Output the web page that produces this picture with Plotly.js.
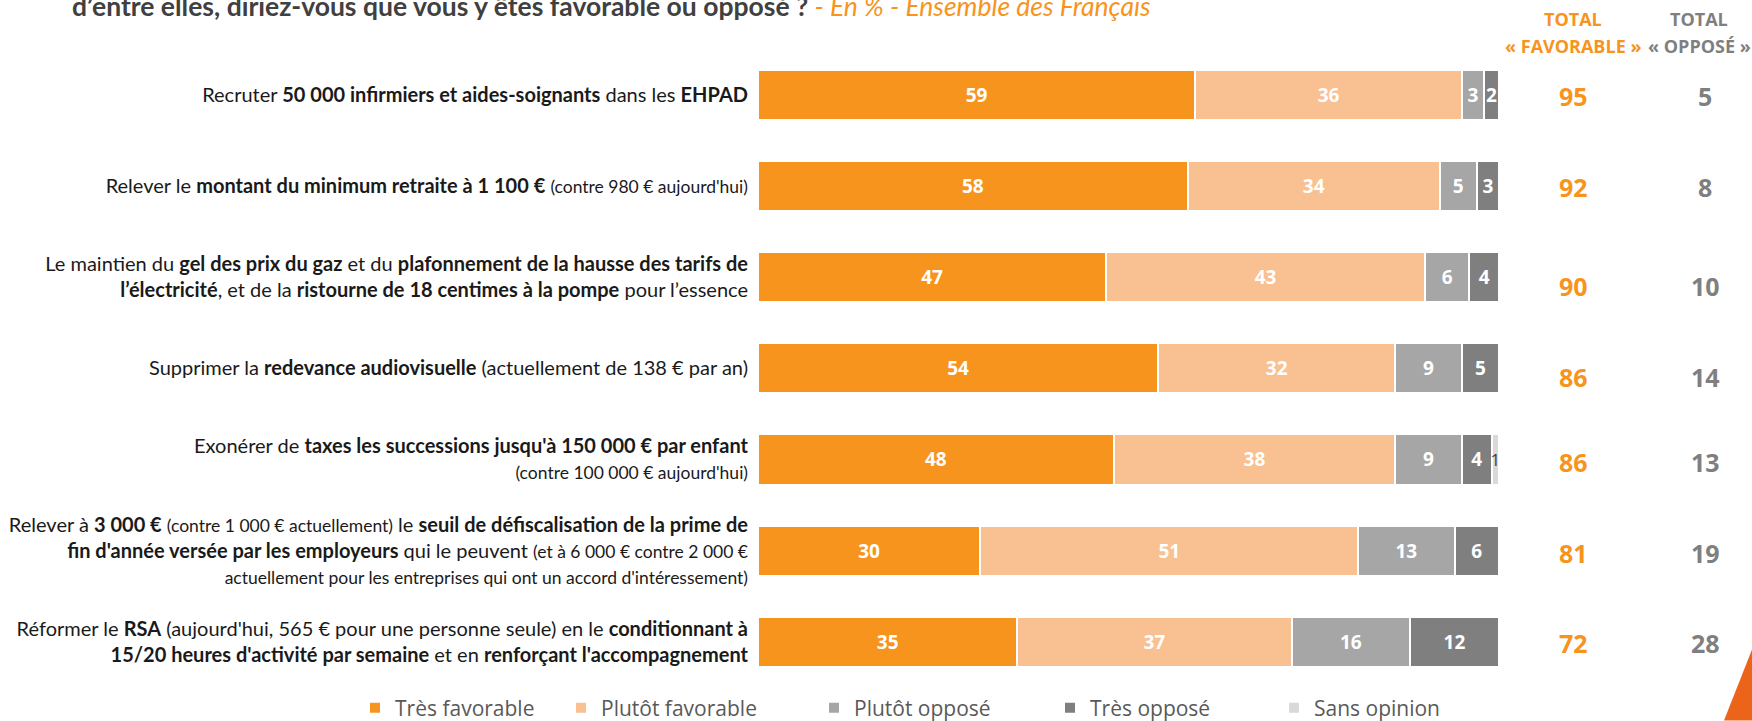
<!DOCTYPE html>
<html>
<head>
<meta charset="utf-8">
<script src="https://cdn.plot.ly/plotly-3.0.1.min.js"></script>
<style>
  html, body { margin: 0; padding: 0; background: #ffffff; }
  #chart { width: 1752px; height: 721px; }
</style>
</head>
<body>
<div id="chart"></div>
<script>
// ---------- DATA ----------
const SMALL = "<span style='font-size:17.5px'>";
const categories = [
  "Recruter <b>50 000 infirmiers et aides-soignants</b> dans les <b>EHPAD</b>",
  "Relever le <b>montant du minimum retraite à 1 100 €</b> " + SMALL + "(contre 980 € aujourd'hui)</span>",
  "Le maintien du <b>gel des prix du gaz</b> et du <b>plafonnement de la hausse des tarifs de</b><br><b>l’électricité</b>, et de la <b>ristourne de 18 centimes à la pompe</b> pour l’essence",
  "Supprimer la <b>redevance audiovisuelle</b> (actuellement de 138 € par an)",
  "Exonérer de <b>taxes les successions jusqu'à 150 000 € par enfant</b><br>" + SMALL + "(contre 100 000 € aujourd'hui)</span>",
  "Relever à <b>3 000 €</b> " + SMALL + "(contre 1 000 € actuellement)</span> le <b>seuil de défiscalisation de la prime de</b><br><b>fin d'année versée par les employeurs</b> qui le peuvent " + SMALL + "(et à 6 000 € contre 2 000 €</span><br>" + SMALL + "actuellement pour les entreprises qui ont un accord d'intéressement)</span>",
  "Réformer le <b>RSA</b> (aujourd'hui, 565 € pour une personne seule) en le <b>conditionnant à</b><br><b>15/20 heures d'activité par semaine</b> et en <b>renforçant l'accompagnement</b>"
];

const seriesNames = ["Très favorable", "Plutôt favorable", "Plutôt opposé", "Très opposé", "Sans opinion"];
const tresFavorable    = [59, 58, 47, 54, 48, 30, 35];
const plutotFavorable  = [36, 34, 43, 32, 38, 51, 37];
const plutotOppose     = [3, 5, 6, 9, 9, 13, 16];
const tresOppose       = [2, 3, 4, 5, 4, 6, 12];
const sansOpinion      = [0, 0, 0, 0, 1, 0, 0];

const totalColumns = ["Total favorable", "Total opposé"];
const totalFavorable = [95, 92, 90, 86, 86, 81, 72];
const totalOppose    = [5, 8, 10, 14, 13, 19, 28];

const titleMain = "d’entre elles, diriez-vous que vous y êtes favorable ou opposé ?";
const titleSub  = " - En % - Ensemble des Français";

// ---------- STYLE / LAYOUT ----------
const W = 1752, H = 721;
const M = { l: 758, r: 0, t: 49, b: 33 };
const plotW = W - M.l - M.r, plotH = H - M.t - M.b;
const barsRightPx = 1499;
const xDomainEnd = (barsRightPx - M.l) / plotW;
const px2x = p => (p - M.l) / plotW;
const py2y = p => (H - M.b - p) / plotH;

const colors = ["#F7941D", "#F9C091", "#A6A6A6", "#7F7F7F", "#D9D9D9"];
const seriesValues = [tresFavorable, plutotFavorable, plutotOppose, tresOppose, sansOpinion];
const legendIds = ["legend", "legend2", "legend3", "legend4", "legend5"];
const legendTextStartPx = [392, 598, 851, 1087, 1311];
// the totals table in the original is slightly offset downwards on some rows
const totalsRowShiftPx = [0, 0, 8, 8, 2, 1, 0];

const traces = seriesValues.map((vals, i) => {
  const isSans = i === 4;
  return {
    type: "bar",
    orientation: "h",
    name: seriesNames[i],
    x: vals,
    y: categories,
    legend: legendIds[i],
    marker: { color: colors[i], line: { color: "#ffffff", width: 2 } },
    text: vals.map(v => (v > 0 ? String(v) : "")),
    texttemplate: "%{text}",
    textposition: "inside",
    insidetextanchor: "middle",
    constraintext: "none",
    insidetextfont: isSans
      ? { family: "Open Sans, sans-serif", size: 17, color: "#404040", weight: 400 }
      : { family: "Open Sans, sans-serif", size: 19, color: "#ffffff", weight: 700 },
    hoverinfo: "skip"
  };
});

// x2 category axis: column 0 centred at 1573px, column 1 at 1699px
const col0 = 1573, col1 = 1699, unit = col1 - col0;
const x2range = [(barsRightPx - col0) / unit, (W - col0) / unit];

const annotations = [
  { xref: "paper", yref: "paper", x: px2x(70), y: py2y(6), xanchor: "left", yanchor: "middle",
    showarrow: false,
    text: "<b>" + titleMain + "</b><span style='color:#F7941D'><i>" + titleSub + "</i></span>",
    font: { family: "Lato, sans-serif", size: 26.5, color: "#404040" } }
];
const headerFont = c => ({ family: "Open Sans, sans-serif", size: 18, color: c });
annotations.push(
  { xref: "x2", yref: "paper", x: 0, y: py2y(19), xanchor: "center", yanchor: "middle", showarrow: false,
    text: "<b>TOTAL</b>", font: headerFont("#F7941D") },
  { xref: "x2", yref: "paper", x: 0, y: py2y(46), xanchor: "center", yanchor: "middle", showarrow: false,
    text: "<b>« FAVORABLE »</b>", font: headerFont("#F7941D") },
  { xref: "x2", yref: "paper", x: 1, y: py2y(19), xanchor: "center", yanchor: "middle", showarrow: false,
    text: "<b>TOTAL</b>", font: headerFont("#7F7F7F") },
  { xref: "x2", yref: "paper", x: 1, y: py2y(46), xanchor: "center", yanchor: "middle", showarrow: false,
    text: "<b>« OPPOSÉ »</b>", font: headerFont("#7F7F7F") }
);
categories.forEach((cat, i) => {
  annotations.push({
    xref: "x2", yref: "y", x: 0, y: cat, xanchor: "center", yanchor: "middle", showarrow: false,
    yshift: -(totalsRowShiftPx[i] + 1),
    text: "<b>" + totalFavorable[i] + "</b>",
    font: { family: "Open Sans, sans-serif", size: 25, color: "#F7941D" }
  });
  annotations.push({
    xref: "x2", yref: "y", x: 1, y: cat, xanchor: "center", yanchor: "middle", showarrow: false,
    xshift: 6, yshift: -(totalsRowShiftPx[i] + 1),
    text: "<b>" + totalOppose[i] + "</b>",
    font: { family: "Open Sans, sans-serif", size: 25, color: "#7F7F7F" }
  });
});

const legendFont = { family: "Open Sans, sans-serif", size: 21, color: "#595959" };
const layout = {
  width: W, height: H,
  margin: M,
  paper_bgcolor: "#ffffff", plot_bgcolor: "#ffffff",
  barmode: "stack",
  bargap: 0.45,
  showlegend: true,
  xaxis: { domain: [0, xDomainEnd], range: [0, 100], visible: false, fixedrange: true },
  xaxis2: { domain: [xDomainEnd, 1], type: "category", categoryarray: totalColumns,
            range: x2range, visible: false, anchor: "y", fixedrange: true },
  yaxis: {
    type: "category", autorange: "reversed",
    showgrid: false, zeroline: false, showline: false, ticks: "",
    ticklabelstandoff: 9,
    tickfont: { family: "Lato, sans-serif", size: 20, color: "#1a1a1a" },
    fixedrange: true
  },
  annotations: annotations,
  shapes: [
    { type: "path", xref: "paper", yref: "paper",
      path: "M " + px2x(1724) + "," + py2y(721) + " L " + px2x(1752) + "," + py2y(721) +
            " L " + px2x(1752) + "," + py2y(650) + " Z",
      fillcolor: "#EC6419", line: { width: 0 }, layer: "above" }
  ]
};
legendIds.forEach((id, i) => {
  layout[id] = {
    xref: "container", yref: "container",
    x: (legendTextStartPx[i] - 37) / W, y: 1 - 708 / H,
    xanchor: "left", yanchor: "middle",
    orientation: "h", bgcolor: "rgba(0,0,0,0)", borderwidth: 0,
    font: legendFont, itemclick: false, itemdoubleclick: false
  };
});

// invisible carrier trace so xaxis2 is instantiated
traces.push({
  type: "scatter", mode: "markers", xaxis: "x2", yaxis: "y",
  x: totalColumns, y: [categories[0], categories[0]],
  marker: { opacity: 0 }, showlegend: false, hoverinfo: "skip"
});

Plotly.newPlot("chart", traces, layout, { displayModeBar: false, staticPlot: true });
</script>
</body>
</html>
